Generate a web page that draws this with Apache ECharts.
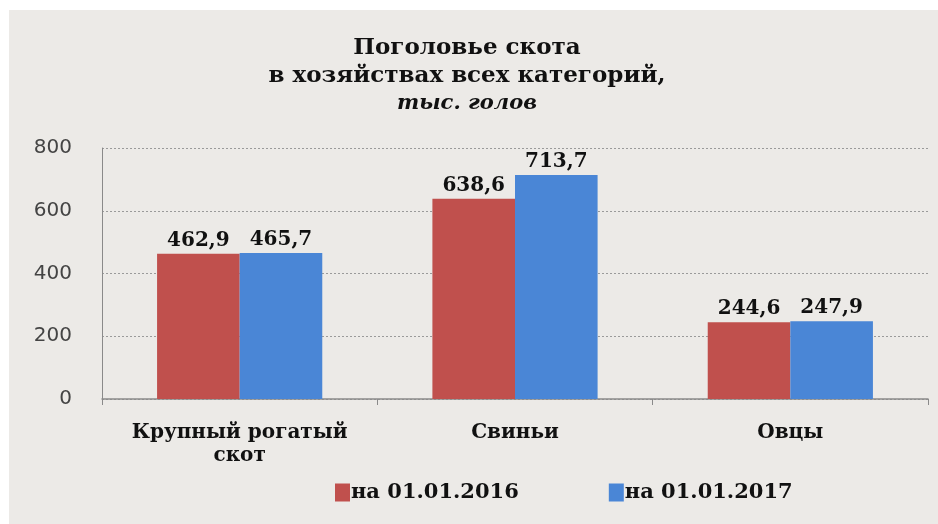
<!DOCTYPE html>
<html>
<head>
<meta charset="utf-8">
<script src="https://cdn.jsdelivr.net/npm/echarts@6/dist/echarts.min.js"></script>
<style>
html,body{margin:0;padding:0;background:#fff;}
#chart{width:938px;height:524px;}
</style>
</head>
<body>
<div id="chart"></div>
<script>
const categories = ['Крупный рогатый\nскот', 'Свиньи', 'Овцы'];
const seriesNames = ['на 01.01.2016', 'на 01.01.2017'];
const values2016 = [462.9, 638.6, 244.6];
const values2017 = [465.7, 713.7, 247.9];
const yTicks = [0, 200, 400, 600, 800];

const chart = echarts.init(document.getElementById('chart'));
const serif = '"DejaVu Serif", "Liberation Serif", serif';
const labelStyle = {
  show: true,
  position: 'top',
  distance: 3,
  fontFamily: serif,
  fontWeight: 'bold',
  fontSize: 20,
  color: '#111',
  formatter: p => String(p.value.toFixed(1)).replace('.', ',')
};
chart.setOption({
  backgroundColor: '#ffffff',
  animation: false,
  graphic: [{
    type: 'rect',
    z: -100,
    shape: { x: 9, y: 10, width: 929, height: 514 },
    style: { fill: '#ECEAE7' }
  }],
  title: {
    text: 'Поголовье скота\nв хозяйствах всех категорий,\n{i|тыс. голов}',
    left: 462,
    textAlign: 'center',
    top: 29,
    textStyle: {
      fontFamily: serif,
      fontWeight: 'bold',
      fontSize: 23,
      lineHeight: 28,
      color: '#111',
      rich: {
        i: { fontFamily: serif, fontWeight: 'bold', fontStyle: 'italic', fontSize: 21, lineHeight: 28, color: '#111' }
      }
    }
  },
  legend: {
    data: seriesNames,
    left: 330,
    top: 477,
    itemWidth: 15,
    itemHeight: 18,
    itemGap: 90,
    icon: 'rect',
    textStyle: { fontFamily: serif, fontWeight: 'bold', fontSize: 21, color: '#111', padding: [0,0,0,-4] }
  },
  grid: { left: 102, right: 10, top: 148, bottom: 125 },
  xAxis: {
    type: 'category',
    data: categories,
    axisLine: { lineStyle: { color: '#8a8a8a', width: 1.5 } },
    axisTick: { show: true, length: 6, lineStyle: { color: '#8a8a8a' } },
    axisLabel: {
      interval: 0,
      fontFamily: serif, fontWeight: 'bold', fontSize: 20, color: '#111',
      margin: 22, lineHeight: 23
    }
  },
  yAxis: {
    type: 'value',
    min: 0, max: 800, interval: 200,
    axisLine: { show: true, lineStyle: { color: '#8a8a8a' } },
    axisTick: { show: false },
    axisLabel: {
      fontFamily: '"DejaVu Sans", sans-serif', fontSize: 20, color: '#444', margin: 30,
      formatter: v => yTicks.includes(v) ? String(v) : ''
    },
    splitLine: { lineStyle: { color: '#9a9a9a', type: [2, 2] } }
  },
  series: [
    { name: seriesNames[0], type: 'bar', data: values2016, barGap: '0%', barCategoryGap: '40%',
      itemStyle: { color: '#C0504D' }, label: labelStyle },
    { name: seriesNames[1], type: 'bar', data: values2017, barGap: '0%', barCategoryGap: '40%',
      itemStyle: { color: '#4A86D6' }, label: labelStyle }
  ]
});
</script>
</body>
</html>
